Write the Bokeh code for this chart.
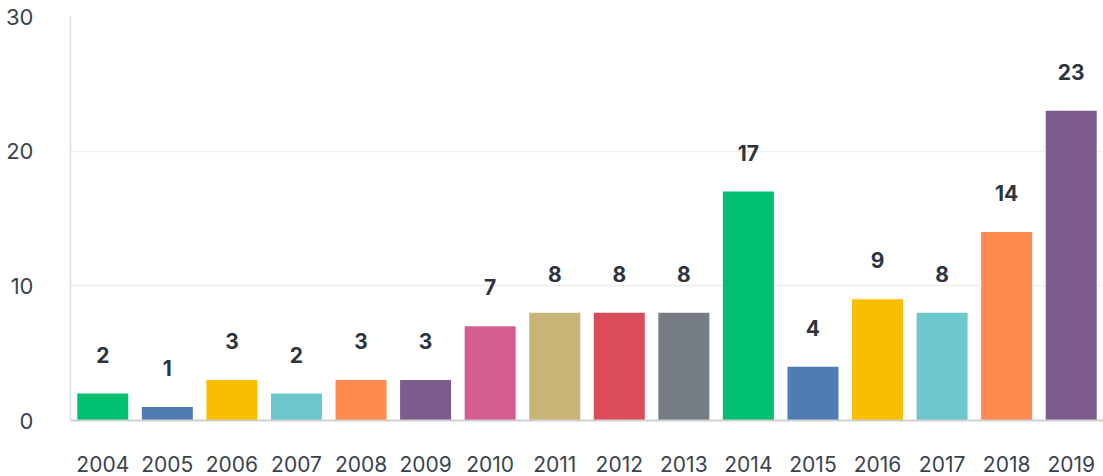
from bokeh.plotting import figure
from bokeh.models import ColumnDataSource, FactorRange, Range1d, FixedTicker
from bokeh.embed import file_html
from bokeh.resources import INLINE
from bokeh.core.properties import value

years = ["2004", "2005", "2006", "2007", "2008", "2009", "2010", "2011",
         "2012", "2013", "2014", "2015", "2016", "2017", "2018", "2019"]
counts = [2, 1, 3, 2, 3, 3, 7, 8, 8, 8, 17, 4, 9, 8, 14, 23]
colors = ["#00BF6F", "#507CB6", "#F9BE00", "#6CC8CD", "#FF8B50", "#7C5C8E",
          "#D35E8F", "#C8B476", "#DB4C5B", "#767D84", "#00BF6F", "#507CB6",
          "#F9BE00", "#6CC8CD", "#FF8B50", "#7C5C8E"]
y_ticks = [0, 10, 20, 30]

FONT = "Inter"
src = ColumnDataSource(dict(x=years, y=counts, c=colors,
                            t=[str(v) for v in counts]))

p = figure(width=1103, height=476, output_backend="svg", toolbar_location=None,
           x_range=FactorRange(*years, range_padding=0),
           y_range=Range1d(0, 30),
           min_border_left=70, min_border_right=0, min_border_top=16,
           min_border_bottom=56)
p.outline_line_color = None

p.vbar(x="x", top="y", width=0.79, fill_color="c", line_color=None, source=src)
p.text(x="x", y="y", text="t", source=src, text_align="center",
       text_baseline="bottom", y_offset=-31, text_font=value(FONT),
       text_font_style="bold", text_font_size="21px", text_color="#2d3440")

p.yaxis.ticker = FixedTicker(ticks=y_ticks)
p.yaxis.axis_line_color = "#dddddd"
p.yaxis.axis_line_width = 1.5
p.yaxis.major_tick_line_color = None
p.yaxis.minor_tick_line_color = None
p.yaxis.major_label_standoff = 31
p.yaxis.major_label_text_font = FONT
p.yaxis.major_label_text_font_size = "22px"
p.yaxis.major_label_text_color = "#3c4350"

p.xaxis.axis_line_color = "#d0d0d0"
p.xaxis.axis_line_width = 2
p.xaxis.major_tick_line_color = None
p.xaxis.minor_tick_line_color = None
p.xaxis.major_label_standoff = 29
p.xaxis.major_label_text_font = FONT
p.xaxis.major_label_text_font_size = "21px"
p.xaxis.major_label_text_color = "#3c4350"

p.xgrid.grid_line_color = None
p.ygrid.grid_line_color = "#efefef"
p.ygrid.grid_line_width = 1.5

open("out.html", "w").write(file_html(p, INLINE))
